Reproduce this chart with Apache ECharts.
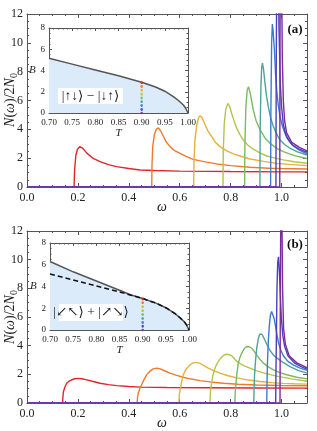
<!DOCTYPE html>
<html><head><meta charset="utf-8">
<script src="https://cdn.jsdelivr.net/npm/echarts@6/dist/echarts.min.js"></script>
<style>html,body{margin:0;padding:0;background:#fff}#c{width:317px;height:431px}</style>
</head><body><div id="c"></div>
<script>
// ---- colours of the nine curves (largest field -> zero field)
const curveColors = ['#e0262b','#ee7a2f','#e5b03b','#b3c54b','#7cba5f','#4da39b','#3e7ad2','#4b3fbf','#7a2c9b'];

// ---- panel (a) curves: [omega, N(omega)/2N0]
const a_red    = [[0,0],[0.185,0],[0.187,1.2],[0.192,2.2],[0.198,2.6],[0.207,2.8],[0.218,2.7],[0.235,2.35],[0.26,1.98],[0.287,1.76],[0.32,1.55],[0.352,1.41],[0.4,1.28],[0.444,1.18],[0.5,1.14],[0.6,1.1],[0.8,1.07],[1.0,1.05],[1.1,1.05]];
const a_orange = [[0,0],[0.49,0],[0.491,1.5],[0.494,2.8],[0.5,3.6],[0.508,4.0],[0.516,4.1],[0.525,3.9],[0.536,3.5],[0.548,3.1],[0.562,2.8],[0.58,2.52],[0.601,2.34],[0.625,2.12],[0.653,1.92],[0.7,1.74],[0.745,1.6],[0.8,1.48],[0.876,1.37],[0.95,1.3],[1.0,1.28],[1.1,1.25]];
const a_yellow = [[0,0],[0.655,0],[0.656,1.8],[0.66,3.3],[0.667,4.3],[0.674,4.8],[0.68,4.95],[0.688,4.8],[0.7,4.3],[0.712,3.85],[0.726,3.5],[0.74,3.1],[0.758,2.8],[0.785,2.5],[0.811,2.3],[0.85,2.08],[0.876,1.94],[0.93,1.78],[0.981,1.64],[1.04,1.55],[1.1,1.48]];
const a_yg     = [[0,0],[0.77,0],[0.771,2.5],[0.775,4.4],[0.781,5.4],[0.789,5.8],[0.796,5.6],[0.804,5.1],[0.814,4.55],[0.824,4.08],[0.836,3.65],[0.85,3.26],[0.868,2.9],[0.889,2.62],[0.915,2.37],[0.942,2.15],[0.975,2.0],[1.007,1.88],[1.05,1.75],[1.1,1.65]];
const a_green  = [[0,0],[0.855,0],[0.856,3],[0.86,5.6],[0.865,6.7],[0.87,6.95],[0.876,6.6],[0.882,6.0],[0.889,5.35],[0.9,4.6],[0.916,3.96],[0.935,3.4],[0.955,3.03],[0.98,2.7],[1.007,2.45],[1.05,2.18],[1.1,1.98]];
const a_teal   = [[0,0],[0.915,0],[0.916,4],[0.919,7],[0.922,8.3],[0.925,8.6],[0.929,8.2],[0.935,7.2],[0.941,6.3],[0.948,5.57],[0.957,4.8],[0.968,4.19],[0.98,3.7],[0.994,3.26],[1.012,2.95],[1.033,2.69],[1.06,2.45],[1.1,2.22]];
const a_blue   = [[0,0],[0.957,0],[0.958,5],[0.961,10],[0.964,11.3],[0.967,10.8],[0.972,9.5],[0.976,8.0],[0.981,6.7],[0.987,5.7],[0.994,4.9],[1.003,4.25],[1.014,3.7],[1.03,3.2],[1.046,2.85],[1.07,2.55],[1.1,2.3]];
const a_indigo = [[0,0],[0.978,0],[0.979,8],[0.981,14],[0.984,18],[0.987,15],[0.99,11],[0.995,7.2],[1.0,5.6],[1.007,4.3],[1.02,3.45],[1.04,2.95],[1.07,2.62],[1.1,2.4]];
const a_purple = [[0,0],[0.993,0],[0.994,10],[0.996,20],[0.998,22],[1.0,15],[1.003,9],[1.007,6.0],[1.012,4.6],[1.02,3.75],[1.04,3.1],[1.07,2.75],[1.1,2.5]];

// ---- panel (b) curves
const b_red    = [[0,0],[0.14,0],[0.141,0.4],[0.143,0.79],[0.149,1.12],[0.156,1.38],[0.166,1.53],[0.176,1.62],[0.188,1.69],[0.2,1.72],[0.215,1.69],[0.235,1.61],[0.26,1.5],[0.287,1.38],[0.32,1.28],[0.352,1.21],[0.4,1.15],[0.444,1.11],[0.55,1.08],[0.7,1.06],[0.9,1.05],[1.1,1.04]];
const b_orange = [[0,0],[0.433,0],[0.434,0.35],[0.437,0.68],[0.443,1.0],[0.45,1.26],[0.46,1.65],[0.47,1.96],[0.483,2.22],[0.496,2.38],[0.51,2.43],[0.523,2.38],[0.54,2.25],[0.562,2.08],[0.585,1.94],[0.614,1.8],[0.645,1.67],[0.68,1.56],[0.72,1.47],[0.771,1.38],[0.83,1.31],[0.902,1.26],[1.0,1.22],[1.1,1.2]];
const b_yellow = [[0,0],[0.597,0],[0.598,0.5],[0.601,0.9],[0.604,1.14],[0.609,1.6],[0.614,1.96],[0.623,2.3],[0.634,2.54],[0.645,2.72],[0.655,2.82],[0.667,2.82],[0.68,2.76],[0.695,2.6],[0.712,2.43],[0.735,2.24],[0.758,2.08],[0.79,1.9],[0.824,1.75],[0.87,1.6],[0.916,1.5],[0.96,1.42],[1.007,1.37],[1.05,1.34],[1.1,1.32]];
const b_yg     = [[0,0],[0.719,0],[0.72,0.6],[0.722,1.0],[0.726,1.5],[0.73,1.9],[0.737,2.35],[0.745,2.7],[0.755,3.0],[0.765,3.22],[0.775,3.35],[0.785,3.4],[0.795,3.37],[0.805,3.28],[0.814,3.1],[0.824,2.9],[0.84,2.72],[0.858,2.56],[0.876,2.43],[0.9,2.26],[0.925,2.12],[0.955,1.98],[0.99,1.84],[1.04,1.68],[1.1,1.52]];
const b_green  = [[0,0],[0.817,0],[0.818,0.7],[0.821,1.38],[0.825,2.1],[0.83,2.78],[0.837,3.2],[0.844,3.5],[0.853,3.78],[0.863,3.94],[0.873,3.92],[0.883,3.82],[0.892,3.62],[0.902,3.36],[0.915,3.05],[0.929,2.78],[0.948,2.52],[0.968,2.31],[0.993,2.12],[1.02,1.97],[1.06,1.8],[1.1,1.68]];
const b_teal   = [[0,0],[0.891,0],[0.892,1.0],[0.894,2.0],[0.898,3.0],[0.903,3.9],[0.909,4.5],[0.914,4.8],[0.918,4.87],[0.923,4.8],[0.93,4.55],[0.942,4.1],[0.955,3.65],[0.968,3.35],[0.981,3.15],[1.0,2.9],[1.033,2.54],[1.065,2.28],[1.1,2.08]];
const b_blue   = [[0,0],[0.942,0],[0.943,1.5],[0.945,3.0],[0.948,4.3],[0.952,5.4],[0.956,6.1],[0.961,6.38],[0.966,6.25],[0.97,5.95],[0.975,5.5],[0.981,4.85],[0.988,4.2],[0.997,3.7],[1.007,3.3],[1.025,2.9],[1.046,2.66],[1.07,2.45],[1.1,2.28]];
const b_indigo = [[0,0],[0.977,0],[0.978,2],[0.98,5],[0.982,8],[0.985,9.8],[0.988,10.2],[0.991,9.4],[0.995,7.6],[0.999,6.0],[1.005,4.7],[1.012,3.95],[1.025,3.3],[1.05,2.8],[1.075,2.55],[1.1,2.37]];
const b_purple = [[0,0],[0.994,0],[0.995,6],[0.997,14],[0.999,20],[1.001,14],[1.004,8],[1.008,5.2],[1.015,4.1],[1.03,3.3],[1.06,2.8],[1.1,2.47]];

// ---- insets: critical field B(T)
const insetA_T = [0.70,0.75,0.80,0.85,0.90,0.93,0.95,0.97,0.98,0.99,0.995,1.0];
const insetA_B = [5.15,4.6,4.05,3.5,2.9,2.45,2.05,1.5,1.15,0.75,0.45,0];
const insetB_T = [0.70,0.75,0.80,0.85,0.875,0.90,0.93,0.95,0.97,0.98,0.99,0.995,1.0];
const insetB_solid  = [6.3,5.35,4.5,3.65,3.22,2.9,2.45,2.05,1.5,1.15,0.75,0.45,0];
const insetB_dashed = [5.15,4.6,4.05,3.5,3.2,2.9,2.45,2.05,1.5,1.15,0.75,0.45,0];
const markerT = 0.90;
const markerB = [2.88,2.52,2.16,1.80,1.44,1.08,0.72,0.36,0.0];

// ---- text
const kets = ['|↑↓⟩ − |↓↑⟩', '|↙↖⟩ + |↗↘⟩'];
const panelLabels = ['(a)', '(b)'];

const SERIF = '"Liberation Serif","DejaVu Serif",serif';
const axisColor = '#555';
const labelColor = '#222';

const zip = (xs, ys) => xs.map((x, i) => [x, ys[i]]);
const fmtStep = (step, dec) => v => {
  const r = Math.round(v / step);
  return Math.abs(v / step - r) < 1e-6 ? v.toFixed(dec) : '';
};

function xAxisPair(grid, min, max, interval, minorSplit, fmt, fontSize, name, nameGap, tickLen, showMax) {
  const common = {
    gridIndex: grid, type: 'value', min, max, interval,
    axisLine: {show: true, onZero: false, lineStyle: {color: axisColor, width: 1}},
    axisTick: {show: true, inside: true, length: tickLen, lineStyle: {color: axisColor}},
    minorTick: {show: true, splitNumber: minorSplit, length: tickLen / 2, lineStyle: {color: axisColor}},
    splitLine: {show: false}, minorSplitLine: {show: false}
  };
  return [
    Object.assign({}, common, {
      position: 'bottom',
      axisLabel: {color: labelColor, fontSize, fontFamily: SERIF, margin: 5, formatter: fmt, showMaxLabel: showMax, showMinLabel: true, hideOverlap: false},
      name, nameLocation: 'middle', nameGap,
      nameTextStyle: {fontStyle: 'italic', fontFamily: SERIF, fontSize: fontSize + 2, color: labelColor}
    }),
    Object.assign({}, common, {position: 'top', axisLabel: {show: false}})
  ];
}
function yAxisPair(grid, min, max, interval, minorSplit, fmt, fontSize, name, nameGap, tickLen) {
  const common = {
    gridIndex: grid, type: 'value', min, max, interval,
    axisLine: {show: true, onZero: false, lineStyle: {color: axisColor, width: 1}},
    axisTick: {show: true, inside: true, length: tickLen, lineStyle: {color: axisColor}},
    minorTick: {show: true, splitNumber: minorSplit, length: tickLen / 2, lineStyle: {color: axisColor}},
    splitLine: {show: false}, minorSplitLine: {show: false}
  };
  return [
    Object.assign({}, common, {
      position: 'left',
      axisLabel: {color: labelColor, fontSize, fontFamily: SERIF, margin: 4, formatter: fmt, showMaxLabel: true, showMinLabel: true, hideOverlap: false},
      name, nameLocation: 'middle', nameGap, nameRotate: 0,
      nameTextStyle: {fontStyle: 'italic', fontFamily: SERIF, fontSize: 11, color: labelColor}
    }),
    Object.assign({}, common, {position: 'right', axisLabel: {show: false}})
  ];
}

const grids = [
  {left: 27, top: 14, width: 280, height: 173},
  {left: 49, top: 28, width: 139, height: 85, show: true, backgroundColor: '#fff', borderWidth: 0},
  {left: 27, top: 231, width: 280, height: 172},
  {left: 50, top: 243, width: 139, height: 87, show: true, backgroundColor: '#fff', borderWidth: 0}
].map(g => Object.assign({outerBoundsMode: 'none', containLabel: false}, g));

const xAxes = [].concat(
  xAxisPair(0, 0, 1.1, 0.2, 4, fmtStep(0.2, 1), 12, '', 8, 4, false),
  xAxisPair(1, 0.7, 1.0, 0.05, 5, fmtStep(0.05, 2), 9, 'T', 15, 3, true),
  xAxisPair(2, 0, 1.1, 0.2, 4, fmtStep(0.2, 1), 12, '', 8, 4, false),
  xAxisPair(3, 0.7, 1.0, 0.05, 5, fmtStep(0.05, 2), 9, 'T', 15, 3, true)
);
const yAxes = [].concat(
  yAxisPair(0, 0, 12, 2, 4, fmtStep(2, 0), 12, '', 14, 4),
  yAxisPair(1, 0, 8, 2, 4, fmtStep(2, 0), 9, 'B', 12, 3),
  yAxisPair(2, 0, 12, 2, 4, fmtStep(2, 0), 12, '', 14, 4),
  yAxisPair(3, 0, 8, 2, 4, fmtStep(2, 0), 9, 'B', 12, 3)
);

const series = [];
function addCurves(curves, axisIdx) {
  curves.forEach((d, i) => series.push({
    type: 'line', xAxisIndex: axisIdx, yAxisIndex: axisIdx, data: d,
    showSymbol: false, symbol: 'none', clip: true, animation: false,
    lineStyle: {color: curveColors[i], width: 1.4}, z: 3
  }));
}
addCurves([a_red, a_orange, a_yellow, a_yg, a_green, a_teal, a_blue, a_indigo, a_purple], 0);
addCurves([b_red, b_orange, b_yellow, b_yg, b_green, b_teal, b_blue, b_indigo, b_purple], 4);

function addInset(axisIdx, Ts, Bsolid, Bdashed) {
  series.push({
    type: 'line', xAxisIndex: axisIdx, yAxisIndex: axisIdx, data: zip(Ts, Bsolid),
    showSymbol: false, symbol: 'none', animation: false,
    lineStyle: {color: '#555', width: 1.5},
    areaStyle: {color: '#dcebfa', opacity: 1}, z: 4
  });
  if (Bdashed) series.push({
    type: 'line', xAxisIndex: axisIdx, yAxisIndex: axisIdx, data: zip(Ts, Bdashed),
    showSymbol: false, symbol: 'none', animation: false,
    lineStyle: {color: '#111', width: 1.5, type: [5, 3]}, z: 5
  });
  for (let i = 0; i < markerB.length - 1; i++) {
    series.push({
      type: 'line', xAxisIndex: axisIdx, yAxisIndex: axisIdx,
      data: [[markerT, markerB[i]], [markerT, markerB[i + 1]]],
      showSymbol: false, symbol: 'none', animation: false,
      lineStyle: {color: curveColors[i], width: 1.6, type: [1.5, 1.8]}, z: 6
    });
  }
  series.push({
    type: 'scatter', xAxisIndex: axisIdx, yAxisIndex: axisIdx,
    data: markerB.map((b, i) => ({value: [markerT, b], itemStyle: {color: curveColors[i]}})),
    symbolSize: 2.5, animation: false, z: 7
  });
}
addInset(2, insetA_T, insetA_B, null);
addInset(6, insetB_T, insetB_solid, insetB_dashed);

function ketBox(x, y, w, h, text) {
  return {
    type: 'group', x, y, z: 100,
    children: [
      {type: 'rect', shape: {x: 0, y: 0, width: w, height: h}, style: {fill: '#fff'}, z: 100},
      {type: 'text', x: w / 2, y: h / 2, z: 101,
       style: {text, font: '13.5px ' + SERIF, fill: '#222', align: 'center', verticalAlign: 'middle'}}
    ]
  };
}
const yTitleRich = {
  i: {fontStyle: 'italic', fontFamily: SERIF, fontSize: 14, fill: labelColor, lineHeight: 18},
  n: {fontFamily: SERIF, fontSize: 14, fill: labelColor, lineHeight: 18},
  s: {fontFamily: SERIF, fontSize: 10, fill: labelColor, lineHeight: 18, verticalAlign: 'bottom', padding: [6, 0, 0, 0]}
};
function yTitle(cx, cy) {
  return {
    type: 'text', x: cx, y: cy, rotation: Math.PI / 2, z: 100,
    style: {text: '{i|N}{n|(}{i|ω}{n|)/2}{i|N}{s|0}', rich: yTitleRich, align: 'center', verticalAlign: 'middle', fill: labelColor}
  };
}
function xTitle(cx, cy) {
  return {
    type: 'text', x: cx, y: cy, z: 100,
    style: {text: 'ω', font: 'italic 14px ' + SERIF, fill: labelColor, align: 'center', verticalAlign: 'middle'}
  };
}
const graphics = [
  ketBox(58, 88, 65, 16, kets[0]),
  ketBox(59, 304, 64, 17, kets[1]),
  yTitle(10, 100),
  yTitle(10, 317),
  xTitle(162, 207),
  xTitle(162, 423),
  {type: 'text', x: 295, y: 30, z: 100, style: {text: panelLabels[0], font: 'bold 13px ' + SERIF, fill: '#111', align: 'center', verticalAlign: 'middle'}},
  {type: 'text', x: 295, y: 245, z: 100, style: {text: panelLabels[1], font: 'bold 13px ' + SERIF, fill: '#111', align: 'center', verticalAlign: 'middle'}}
];

const chart = echarts.init(document.getElementById('c'), null, {renderer: 'canvas'});
chart.setOption({
  animation: false,
  backgroundColor: '#fff',
  textStyle: {fontFamily: SERIF},
  grid: grids,
  xAxis: xAxes,
  yAxis: yAxes,
  series,
  graphic: graphics
});
</script></body></html>
